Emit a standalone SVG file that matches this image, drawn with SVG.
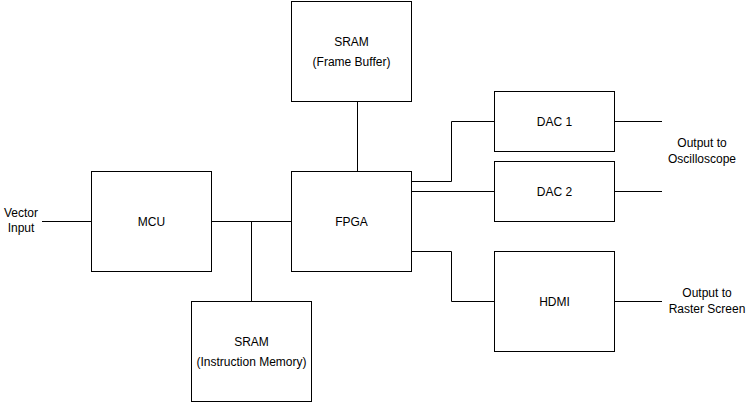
<svg xmlns="http://www.w3.org/2000/svg" width="754" height="403" viewBox="0 0 754 403">
<style>
.box{fill:#fff;stroke:#000;stroke-width:1}
.wire{fill:none;stroke:#000;stroke-width:1}
text{font-family:"Liberation Sans",Arial,sans-serif;font-size:12px;fill:#000;text-anchor:middle}
</style>
<rect width="754" height="403" fill="#fff"/>
<g id="connectors">
<path class="wire" d="M42 221.5H91.5"/>
<path class="wire" d="M211.5 221.5H291.5"/>
<path class="wire" d="M251.5 221.5V301.5"/>
<path class="wire" d="M357.5 101.5V171.5"/>
<path class="wire" d="M411.5 181.5H451.5V121.5H494.5"/>
<path class="wire" d="M411.5 191.5H494.5"/>
<path class="wire" d="M411.5 251.5H451.5V301.5H494.5"/>
<path class="wire" d="M614.5 121.5H662"/>
<path class="wire" d="M614.5 191.5H662"/>
<path class="wire" d="M614.5 301.5H662"/>
</g>
<g id="vector-input"><text x="21" y="217">Vector</text><text x="21" y="232">Input</text></g>
<g id="mcu"><rect class="box" x="91.5" y="171.5" width="120" height="100"/><text x="151.5" y="225.5">MCU</text></g>
<g id="fpga"><rect class="box" x="291.5" y="171.5" width="120" height="100"/><text x="351.5" y="225.5">FPGA</text></g>
<g id="sram-frame"><rect class="box" x="291.5" y="1.5" width="120" height="100"/><text x="351.5" y="45.5">SRAM</text><text x="351.5" y="65.5">(Frame Buffer)</text></g>
<g id="sram-instr"><rect class="box" x="191.5" y="301.5" width="120" height="100"/><text x="251.5" y="345.5">SRAM</text><text x="251.5" y="365.5">(Instruction Memory)</text></g>
<g id="dac1"><rect class="box" x="494.5" y="91.5" width="120" height="60"/><text x="554.5" y="125.5">DAC 1</text></g>
<g id="dac2"><rect class="box" x="494.5" y="161.5" width="120" height="60"/><text x="554.5" y="195.5">DAC 2</text></g>
<g id="hdmi"><rect class="box" x="494.5" y="251.5" width="120" height="100"/><text x="554.5" y="305.5">HDMI</text></g>
<g id="out-osc"><text x="702" y="147">Output to</text><text x="702" y="163">Oscilloscope</text></g>
<g id="out-raster"><text x="707" y="297">Output to</text><text x="707" y="313">Raster Screen</text></g>
</svg>
